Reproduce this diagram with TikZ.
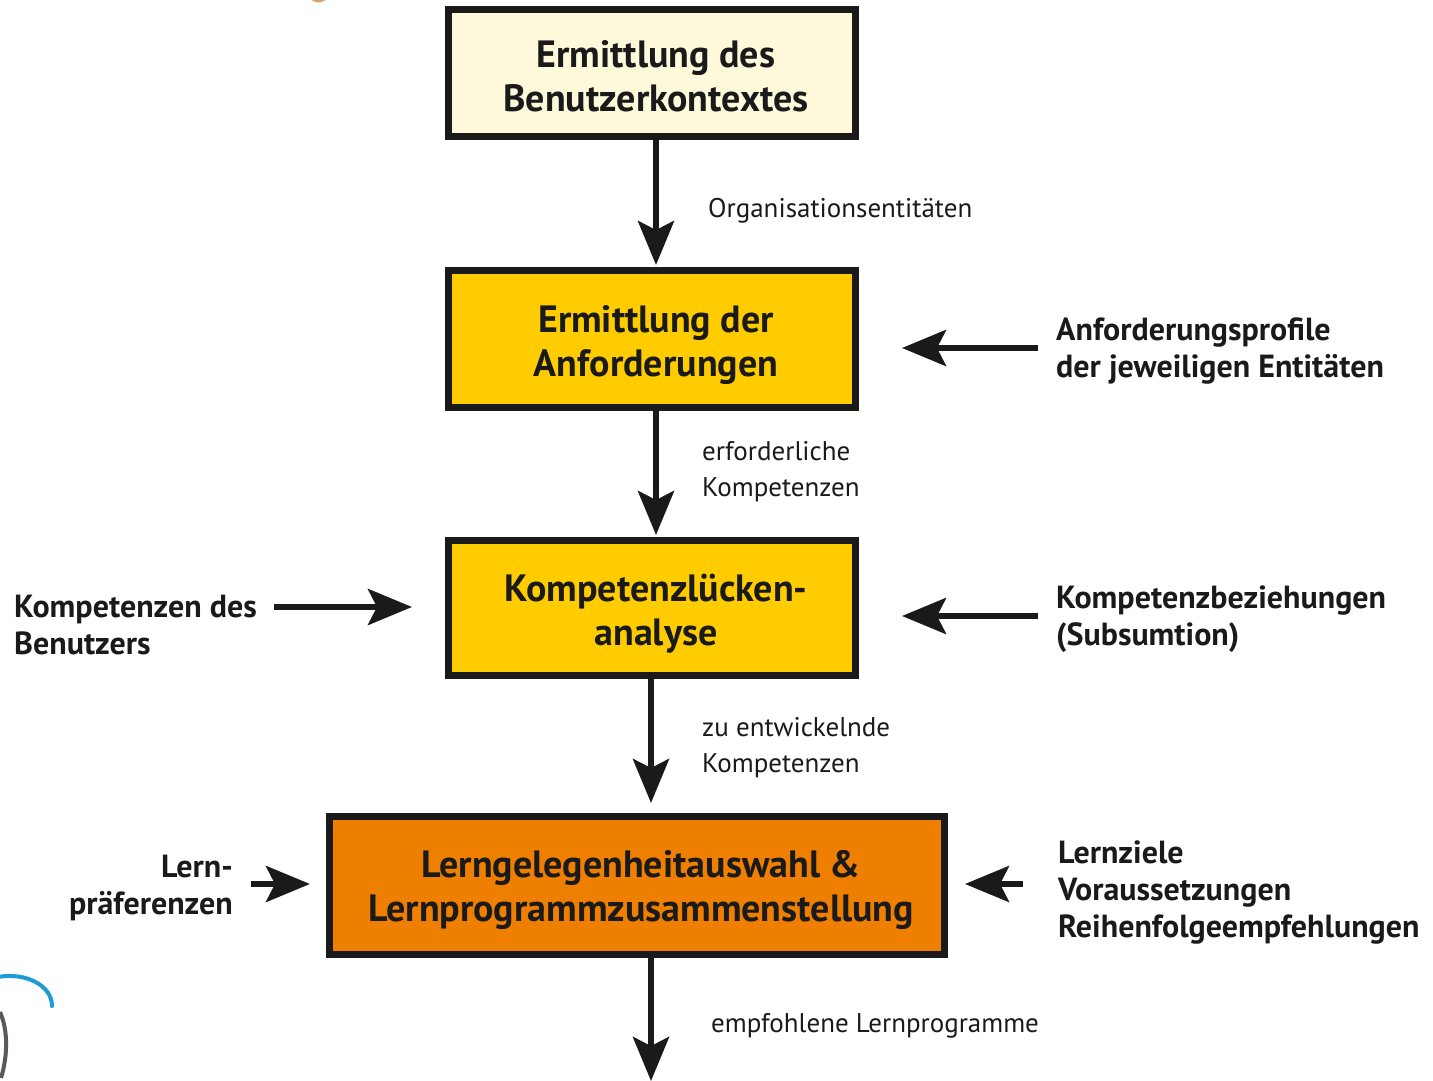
\documentclass[tikz,border=0pt]{standalone}
\usepackage{fontspec}
\setmainfont{PT Sans}
\usetikzlibrary{arrows.meta,calc}
\definecolor{ink}{HTML}{1A1A1A}
\definecolor{cream}{HTML}{FFF9DC}
\definecolor{gold}{HTML}{FFCC00}
\definecolor{amber}{HTML}{EE7F00}
\definecolor{penblue}{HTML}{1E9BD7}
\begin{document}
\begin{tikzpicture}[x=1pt,y=-1pt,
  stage/.style={draw=ink, line width=7pt, minimum width=407pt, align=center, inner sep=0pt,
    text depth=0pt, font=\bfseries\fontsize{38}{44}\selectfont, text=ink},
  side/.style={inner sep=0pt, font=\bfseries\fontsize{32}{37}\selectfont, text=ink},
  flowlabel/.style={inner sep=0pt, anchor=west, align=left, font=\fontsize{27}{36}\selectfont, text=ink},
  arr/.style={draw=ink, line width=6pt, -{Stealth[length=44pt,width=36pt,inset=9pt]}}
]
\useasboundingbox (0,0) rectangle (1433,1081);

% process stages
\node[stage, fill=cream, minimum height=127pt, text height=76.5pt] (b1) at (652,73) {\hspace*{8pt}Ermittlung des\\\hspace*{8pt}Benutzerkontextes};
\node[stage, fill=gold, minimum height=137pt, text height=74pt] (b2) at (652,339) {\hspace*{8pt}Ermittlung der\\\hspace*{8pt}Anforderungen};
\node[stage, fill=gold, minimum height=135pt, text height=74pt] (b3) at (652,608) {\hspace*{8pt}Kompetenzlücken-\\\hspace*{8pt}analyse};
\node[stage, fill=amber, minimum width=615pt, minimum height=138pt, text height=72pt] (b4) at (637,885.5)
  {\hspace*{8pt}Lerngelegenheitauswahl \&\\\hspace*{8pt}Lernprogrammzusammenstellung};

% column positions of the vertical flow
\coordinate (c1) at (656,0);
\coordinate (c2) at (651,0);
\coordinate (out) at (651,1081);

% vertical flow
\draw[arr, shorten >=2pt] (b1.south -| c1) -- (b2.north -| c1);
\draw[arr, shorten >=2pt] (b2.south -| c1) -- (b3.north -| c1);
\draw[arr, shorten >=10pt] (b3.south -| c2) -- (b4.north -| c2);
\draw[arr] (b4.south -| c2) -- (out);

% flow labels
\node[flowlabel] (l1) at (708,211) {Organisationsentitäten};
\node[flowlabel] (l2) at (702,472) {erforderliche\\Kompetenzen};
\node[flowlabel] (l3) at (702,748) {zu entwickelnde\\Kompetenzen};
\node[flowlabel] (l4) at (711,1026) {empfohlene Lernprogramme};

% side inputs
\node[side, anchor=west, align=left] (s1) at (1056,351) {Anforderungsprofile\\der jeweiligen Entitäten};
\node[side, anchor=west, align=left] (s2) at (1056,619) {Kompetenzbeziehungen\\(Subsumtion)};
\node[side, anchor=north west, align=left] (s3) at (14,595) {Kompetenzen des\\Benutzers};
\node[side, anchor=east, align=right] (s4) at (233,888) {Lern-\\präferenzen};
\node[side, anchor=west, align=left] (s5) at (1058,893) {Lernziele\\Voraussetzungen\\Reihenfolgeempfehlungen};

\coordinate (k1) at (1056,348);
\coordinate (k2) at (1056,616);
\coordinate (k3) at (255,607);
\coordinate (k4) at (233,884);
\coordinate (k5) at (1058,884);
\draw[arr, shorten <=18pt, shorten >=43pt] (k1) -- (k1 -| b2.east);
\draw[arr, shorten <=18pt, shorten >=43pt] (k2) -- (k2 -| b3.east);
\draw[arr, shorten <=19pt, shorten >=33pt] (k3) -- (k3 -| b3.west);
\draw[arr, shorten <=18pt, shorten >=16pt] (k4) -- (k4 -| b4.west);
\draw[arr, shorten <=35pt, shorten >=17pt] (k5) -- (k5 -| b4.east);

% pen marks at the edges
\draw[penblue, line width=4pt, line cap=round] (-2,977) .. controls (25,972) and (52,985) .. (52,1006);
\draw[black!65, line width=4pt] (0,1012) .. controls (8,1030) and (8,1055) .. (1,1078);
\fill[amber!60!gray!70] (310,-2) .. controls (314,4) and (322,4) .. (328,-2) -- cycle;
\end{tikzpicture}
\end{document}
